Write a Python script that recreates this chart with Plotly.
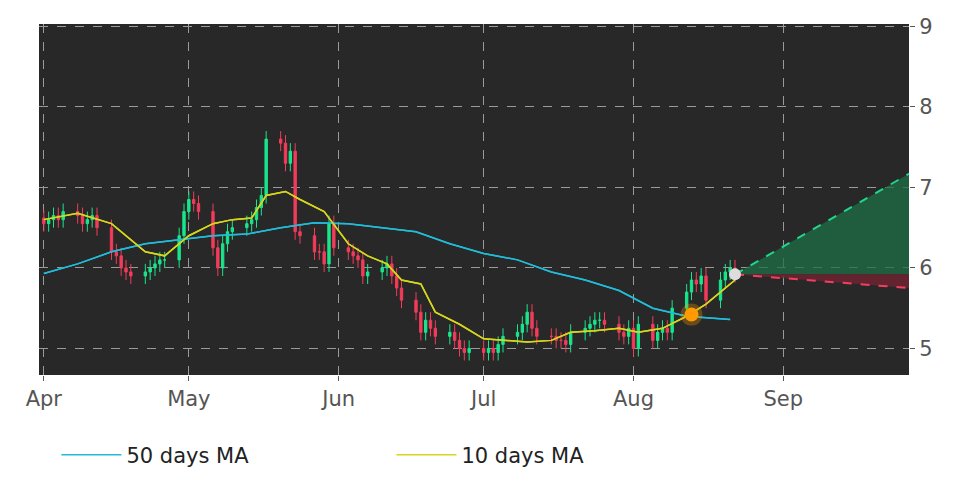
import pandas as pd
import plotly.graph_objects as go

closes = [6.55,6.6,6.65,6.6,6.7,6.65,6.55,6.6,6.65,6.5,6.2,6.15,6.0,5.95,5.9,5.95,6.0,6.05,6.1,6.1,6.4,6.7,
          6.85,6.8,6.7,6.25,6.0,6.3,6.45,6.5,6.55,6.6,6.75,6.9,7.6,7.55,7.3,7.45,6.45,6.4,6.2,6.2,6.05,6.55,6.25,
          6.2,6.15,6.1,5.9,5.95,6.0,6.05,5.9,5.75,5.6,5.45,5.2,5.35,5.25,5.15,5.2,5.1,5.0,4.95,5.0,
          4.95,5.0,4.95,5.05,5.15,5.2,5.3,5.45,5.25,5.15,5.15,5.1,5.1,5.05,5.2,5.25,5.3,5.35,5.35,5.3,5.2,5.15,5.25,
          5.0,5.3,5.1,5.2,5.25,5.2,5.5,5.7,5.85,5.8,5.9,5.6,5.85,5.95,6.0,5.92]
dates = pd.bdate_range("2024-04-01", periods=len(closes))
opens = [6.62] + closes[:-1]
highs = [max(o, c) + 0.1 for o, c in zip(opens, closes)]
lows = [min(o, c) - 0.1 for o, c in zip(opens, closes)]

ma50_dates = ["2024-04-01","2024-04-08","2024-04-15","2024-04-22","2024-04-29","2024-05-06","2024-05-13","2024-05-20",
              "2024-05-27","2024-06-03","2024-06-10","2024-06-17","2024-06-24","2024-07-01","2024-07-08","2024-07-15",
              "2024-07-22","2024-07-29","2024-08-05","2024-08-12","2024-08-21"]
ma50 = [5.93,6.05,6.2,6.3,6.35,6.4,6.42,6.5,6.56,6.55,6.5,6.45,6.3,6.18,6.1,5.95,5.85,5.72,5.5,5.4,5.36]
ma10_dates = ["2024-04-01","2024-04-08","2024-04-15","2024-04-22","2024-04-26","2024-05-01","2024-05-06","2024-05-10",
              "2024-05-14","2024-05-17","2024-05-21","2024-05-24","2024-05-29","2024-06-03","2024-06-07","2024-06-11",
              "2024-06-14","2024-06-18","2024-06-21","2024-06-26","2024-07-01","2024-07-05","2024-07-10","2024-07-15",
              "2024-07-19","2024-07-24","2024-07-29","2024-08-02","2024-08-07","2024-08-12","2024-08-16","2024-08-22"]
ma10 = [6.6,6.68,6.55,6.2,6.15,6.4,6.55,6.6,6.62,6.9,6.95,6.85,6.7,6.3,6.15,6.05,5.85,5.8,5.45,5.3,5.12,5.1,5.08,5.1,
        5.2,5.22,5.25,5.2,5.25,5.4,5.55,5.85]

proj_dates = ["2024-08-22", "2024-09-27"]
proj_up = [5.92, 7.17]
proj_down = [5.92, 5.75]
proj_base = [5.92, 5.92]
signal_date, signal_val = "2024-08-13", 5.42
last_date, last_val = "2024-08-22", 5.92

fig = go.Figure()
fig.add_trace(go.Scatter(x=ma50_dates, y=ma50, mode="lines", line=dict(color="#22bcd8", width=1.5), name="50 days MA"))
fig.add_trace(go.Scatter(x=ma10_dates, y=ma10, mode="lines", line=dict(color="#d6d61e", width=1.5), name="10 days MA"))
fig.add_trace(go.Scatter(x=proj_dates, y=proj_base, mode="lines", line=dict(width=0), showlegend=False, hoverinfo="skip"))
fig.add_trace(go.Scatter(x=proj_dates, y=proj_up, mode="lines", fill="tonexty", fillcolor="rgba(30,110,70,0.75)",
                         line=dict(color="#1fd68a", dash="dash", width=2), showlegend=False))
fig.add_trace(go.Scatter(x=proj_dates, y=proj_base, mode="lines", line=dict(width=0), showlegend=False, hoverinfo="skip"))
fig.add_trace(go.Scatter(x=proj_dates, y=proj_down, mode="lines", fill="tonexty", fillcolor="rgba(120,35,50,0.75)",
                         line=dict(color="#f04060", dash="dash", width=2), showlegend=False))
fig.add_trace(go.Candlestick(x=dates, open=opens, high=highs, low=lows, close=closes,
                             increasing=dict(line=dict(color="#19e68c", width=1), fillcolor="#19e68c"),
                             decreasing=dict(line=dict(color="#f23c5a", width=1), fillcolor="#f23c5a"),
                             showlegend=False))
fig.add_trace(go.Scatter(x=ma50_dates, y=ma50, mode="lines", line=dict(color="#22bcd8", width=1.5), showlegend=False))
fig.add_trace(go.Scatter(x=ma10_dates, y=ma10, mode="lines", line=dict(color="#d6d61e", width=1.5), showlegend=False))
fig.add_trace(go.Scatter(x=[signal_date], y=[signal_val], mode="markers",
                         marker=dict(color="#ff9a00", size=14, line=dict(color="rgba(255,154,0,0.3)", width=8)), showlegend=False))
fig.add_trace(go.Scatter(x=[last_date], y=[last_val], mode="markers",
                         marker=dict(color="#dddddd", size=12), showlegend=False))

grid = dict(showgrid=True, gridcolor="#9a9a9a", griddash="dash", gridwidth=1, zeroline=False)
fig.update_layout(
    width=972, height=486, paper_bgcolor="white", plot_bgcolor="#282828",
    margin=dict(l=31, r=71, t=16, b=119, autoexpand=False),
    font=dict(family="DejaVu Sans", size=21, color="#555555"),
    xaxis=dict(range=["2024-03-31", "2024-09-27"], rangeslider=dict(visible=False), tickformat="%b",
               dtick="M1", tick0="2024-04-01", ticks="outside", tickcolor="#555", **grid),
    yaxis=dict(side="right", range=[4.67, 9.03], dtick=1, ticks="outside", tickcolor="#555", **grid),
    legend=dict(orientation="h", x=0.02, y=-0.17, yanchor="top", traceorder="normal",
                itemwidth=60, entrywidthmode="pixels", entrywidth=260,
                font=dict(size=21, color="#222")),
    showlegend=True,
)
fig.write_html("out.html")
